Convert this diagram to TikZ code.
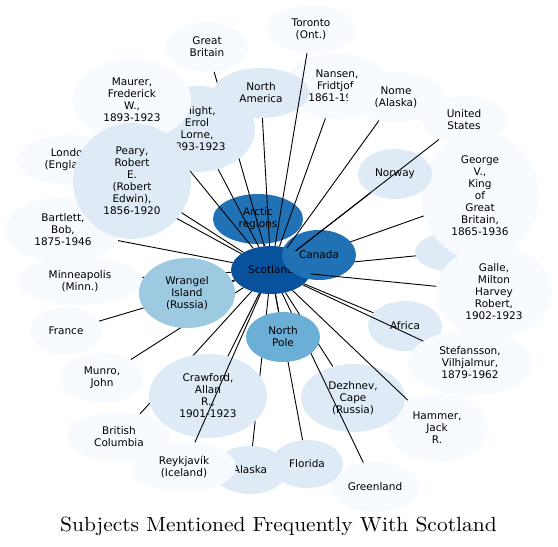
\documentclass[tikz,border=0pt]{standalone}
\usepackage{fontspec}
\newfontfamily\lblfont{DejaVu Sans}
\usepackage{graphicx}
\usepackage{tikz}
\usetikzlibrary{shapes.geometric}
\definecolor{bluedk}{RGB}{8,81,156}
\definecolor{bluemd}{RGB}{33,113,181}
\definecolor{bluemp}{RGB}{107,174,214}
\definecolor{bluelt}{RGB}{158,202,225}
\definecolor{bluepl}{RGB}{222,235,247}
\definecolor{bluevl}{RGB}{247,251,255}

\begin{document}
\begin{tikzpicture}[x=1pt, y=-1pt]
		\tikzset{sub/.style={ellipse, inner sep=0pt, align=center, font=\lblfont\fontsize{10.5}{12}\selectfont}}
		\tikzset{dk/.style={fill=bluedk}, md/.style={fill=bluemd}, mp/.style={fill=bluemp}}
		\tikzset{lt/.style={fill=bluelt}, pl/.style={fill=bluepl}, vl/.style={fill=bluevl}}
		\tikzset{ln/.style={line width=0.9pt}}
		\useasboundingbox (0,0) rectangle (558,547);
		% hub
		\node[sub, dk, minimum width=80, minimum height=48] (sc) at (271,270) {Scotland};
		% north-west side
		\node[sub, md, minimum width=90, minimum height=50] (ar) at (258,219) {Arctic\\regions}; \draw[ln] (sc) -- (ar);
		\node[sub, vl, minimum width=82, minimum height=50] (gb) at (207,47) {Great\\Britain}; \draw[ln] (sc) -- (gb);
		\node[sub, pl, minimum width=116, minimum height=86] (kn) at (197,129) {Knight,\\Errol\\Lorne,\\1893-1923}; \draw[ln] (sc) -- (kn);
		\node[sub, vl, minimum width=118, minimum height=82] (ma) at (132,100) {Maurer,\\Frederick\\W.,\\1893-1923}; \draw[ln] (sc) -- (ma);
		\node[sub, vl, minimum width=108, minimum height=50] (lo) at (70,160) {London\\(England)}; \draw[ln] (sc) -- (lo);
		\node[sub, vl, minimum width=116, minimum height=66] (ba) at (63,230) {Bartlett,\\Bob,\\1875-1946}; \draw[ln] (sc) -- (ba);
		\node[sub, pl, minimum width=118, minimum height=116] (pe) at (132,181) {Peary,\\Robert\\E.\\(Robert\\Edwin),\\1856-1920}; \draw[ln] (sc) -- (pe);
		% north side
		\node[sub, vl, minimum width=104, minimum height=66] (ns) at (337,86) {Nansen,\\Fridtjof,\\1861-1930}; \draw[ln] (sc) -- (ns);
		\node[sub, pl, minimum width=96, minimum height=50] (na) at (261,93) {North\\America}; \draw[ln] (sc) -- (na);
		\node[sub, vl, minimum width=88, minimum height=48] (to) at (311,29) {Toronto\\(Ont.)}; \draw[ln] (sc) -- (to);
		% east side
		\node[sub, pl, minimum width=80, minimum height=40] (hd) at (455,252) {}; \draw[ln] (sc) -- (hd);
		\node[sub, vl, minimum width=118, minimum height=128] (gv) at (480,196) {George\\V.,\\King\\of\\Great\\Britain,\\1865-1936}; \draw[ln] (sc) -- (gv);
		\node[sub, md, minimum width=74, minimum height=50] (ca) at (319,255) {Canada};
		\node[sub, vl, minimum width=97, minimum height=50] (nm) at (396,97) {Nome\\(Alaska)}; \draw[ln] (sc) -- (nm);
		\node[sub, pl, minimum width=74, minimum height=50] (no) at (395,174) {Norway}; \draw[ln] (sc) -- (no);
		\node[sub, vl, minimum width=84, minimum height=48] (us) at (464,120) {United\\States}; \draw[ln] (sc) -- (us);
		\node[sub, vl, minimum width=116, minimum height=92] (ga) at (494,292) {Galle,\\Milton\\Harvey\\Robert,\\1902-1923}; \draw[ln] (sc) -- (ga);
		\node[sub, pl, minimum width=74, minimum height=50] (af) at (405,326) {Africa}; \draw[ln] (sc) -- (af);
		\node[sub, vl, minimum width=124, minimum height=66] (st) at (470,363) {Stefansson,\\Vilhjalmur,\\1879-1962}; \draw[ln] (sc) -- (st);
		% south side
		\node[sub, vl, minimum width=100, minimum height=68] (ha) at (437,428) {Hammer,\\Jack\\R.};
		\node[sub, pl, minimum width=104, minimum height=68] (dz) at (353,398) {Dezhnev,\\Cape\\(Russia)}; \draw[ln] (sc) -- (dz);
		\draw[ln] (sc) -- (ha);
		\node[sub, vl, minimum width=90, minimum height=50] (gr) at (375,487) {Greenland}; \draw[ln] (sc) -- (gr);
		\node[sub, pl, minimum width=74, minimum height=48] (al) at (250,470) {Alaska}; \draw[ln] (sc) -- (al);
		\node[sub, pl, minimum width=72, minimum height=48] (fl) at (307,464) {Florida}; \draw[ln] (sc) -- (fl);
		\node[sub, mp, minimum width=74, minimum height=50] (np) at (283,337) {North\\Pole}; \draw[ln] (sc) -- (np);
		\node[sub, vl, minimum width=104, minimum height=50] (bc) at (119,437) {British\\Columbia}; \draw[ln] (sc) -- (bc);
		\node[sub, pl, minimum width=118, minimum height=84] (cr) at (208,396) {Crawford,\\Allan\\R.,\\1901-1923}; \draw[ln] (sc) -- (cr);
		\node[sub, vl, minimum width=104, minimum height=50] (re) at (184,467) {Reykjavík\\(Iceland)}; \draw[ln] (sc) -- (re);
		% west side
		\node[sub, vl, minimum width=84, minimum height=50] (mu) at (102,378) {Munro,\\John}; \draw[ln] (sc) -- (mu);
		\node[sub, vl, minimum width=72, minimum height=48] (fr) at (66,331) {France}; \draw[ln] (sc) -- (fr);
		\node[sub, vl, minimum width=126, minimum height=48] (mi) at (80,281) {Minneapolis\\(Minn.)}; \draw[ln] (sc) -- (mi);
		\node[sub, lt, minimum width=96, minimum height=70] (wr) at (187,293) {Wrangel\\Island\\(Russia)}; \draw[ln] (sc) -- (wr);
		% title
		\node[anchor=base, inner sep=0pt, font=\fontsize{10}{12}\selectfont] (ttl) at (278.5,531) {\scalebox{2.15}[2.05]{Subjects Mentioned Frequently With Scotland}};
	\end{tikzpicture}
\end{document}
